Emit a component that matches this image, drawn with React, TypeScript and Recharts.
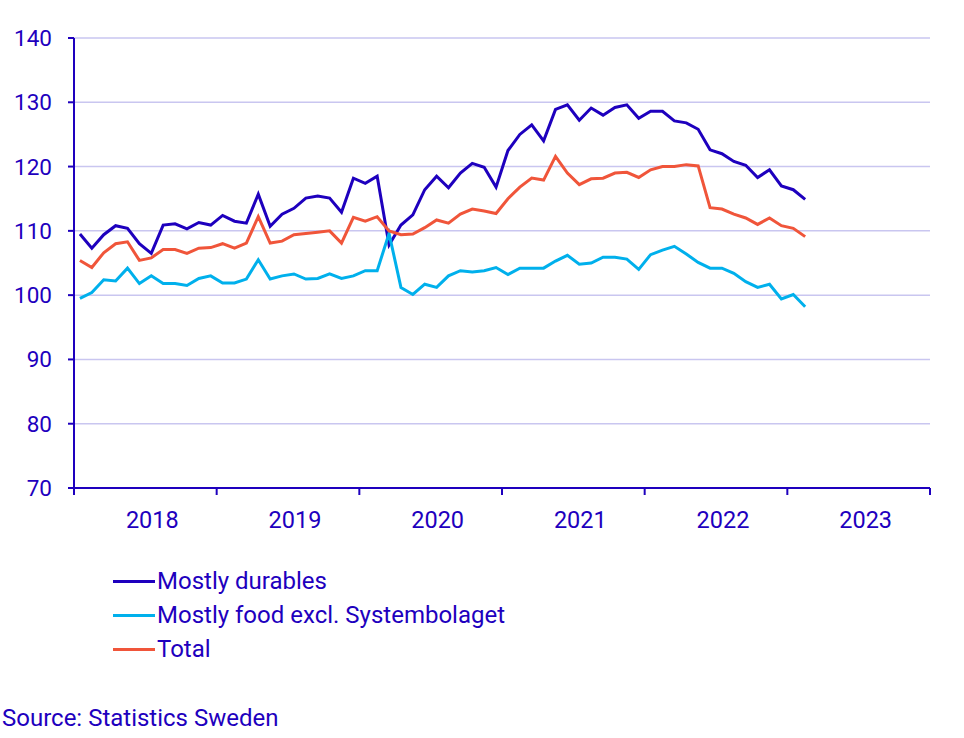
import { CartesianGrid, Line, LineChart, XAxis, YAxis } from 'recharts'

// Monthly index, Jan 2018 – Feb 2023
const DURABLES = [
  109.5, 107.3, 109.4, 110.8, 110.4, 108.0, 106.5, 110.9, 111.1, 110.3, 111.3, 110.9,
  112.4, 111.5, 111.2, 115.7, 110.7, 112.6, 113.5, 115.1, 115.4, 115.1, 112.9, 118.2,
  117.4, 118.5, 107.8, 110.9, 112.5, 116.4, 118.5, 116.7, 119.0, 120.5, 119.9, 116.8,
  122.5, 125.0, 126.5, 124.0, 128.9, 129.6, 127.2, 129.1, 128.0, 129.2, 129.6, 127.5,
  128.6, 128.6, 127.1, 126.8, 125.8, 122.6, 122.0, 120.8, 120.2, 118.3, 119.5, 117.0,
  116.4, 114.9,
]
const FOOD = [
  99.5, 100.4, 102.4, 102.2, 104.2, 101.8, 103.0, 101.8, 101.8, 101.5, 102.6, 103.0,
  101.9, 101.9, 102.5, 105.5, 102.5, 103.0, 103.3, 102.5, 102.6, 103.3, 102.6, 103.0,
  103.8, 103.8, 109.6, 101.2, 100.1, 101.7, 101.2, 103.0, 103.8, 103.6, 103.8, 104.3,
  103.2, 104.2, 104.2, 104.2, 105.3, 106.2, 104.8, 105.0, 105.9, 105.9, 105.6, 104.0,
  106.3, 107.0, 107.6, 106.4, 105.1, 104.2, 104.2, 103.4, 102.1, 101.2, 101.7, 99.4,
  100.1, 98.2,
]
const TOTAL = [
  105.4, 104.3, 106.6, 108.0, 108.3, 105.4, 105.8, 107.1, 107.1, 106.5, 107.3, 107.4,
  108.0, 107.3, 108.1, 112.2, 108.1, 108.4, 109.4, 109.6, 109.8, 110.0, 108.1, 112.1,
  111.5, 112.2, 110.0, 109.4, 109.5, 110.5, 111.7, 111.2, 112.6, 113.4, 113.1, 112.7,
  115.0, 116.8, 118.2, 117.9, 121.6, 119.0, 117.2, 118.1, 118.2, 119.0, 119.1, 118.3,
  119.5, 120.0, 120.0, 120.3, 120.1, 113.6, 113.4, 112.6, 112.0, 111.0, 112.0, 110.8,
  110.4, 109.1,
]
const YEARS = ['2018', '2019', '2020', '2021', '2022', '2023']
const Y_TICKS = [70, 80, 90, 100, 110, 120, 130, 140]

const SERIES = [
  { key: 'durables', name: 'Mostly durables', color: '#1e00be' },
  { key: 'food', name: 'Mostly food excl. Systembolaget', color: '#00b0ec' },
  { key: 'total', name: 'Total', color: '#f0553a' },
]

const INK = '#1e00be'
const FONT = 'Roboto, sans-serif'

const data = DURABLES.map((d, i) => ({
  t: i + 0.5,
  durables: d,
  food: FOOD[i],
  total: TOTAL[i],
}))

const xTicks = Array.from({ length: YEARS.length * 2 + 1 }, (_, i) => i * 6)

function XTick(props: any) {
  const { x, y, payload } = props
  const v = payload.value as number
  if (v % 12 === 0) {
    return <line x1={x} x2={x} y1={y} y2={y + 7} stroke={INK} strokeWidth={2} />
  }
  return (
    <text x={x + 7} y={y + 40} textAnchor="middle" fill={INK} fontSize={23.5} fontFamily={FONT}>
      {YEARS[Math.floor(v / 12)]}
    </text>
  )
}

export default function App() {
  return (
    <div style={{ position: 'absolute', left: 0, top: 0, width: 964, height: 738, background: '#fff', fontFamily: FONT }}>
      <LineChart width={964} height={540} data={data} margin={{ top: 38, right: 34, bottom: 0, left: 0 }}>
        <CartesianGrid vertical={false} stroke="#c9c6f0" strokeWidth={1.5} />
        <XAxis
          type="number"
          dataKey="t"
          domain={[0, 72]}
          ticks={xTicks}
          interval={0}
          tickSize={0}
          tickMargin={0}
          tickLine={false}
          tick={XTick}
          axisLine={{ stroke: INK, strokeWidth: 2 }}
          height={52}
        />
        <YAxis
          type="number"
          domain={[70, 140]}
          ticks={Y_TICKS}
          interval={0}
          width={74}
          tickSize={6}
          tickMargin={16}
          tickLine={{ stroke: INK, strokeWidth: 2 }}
          axisLine={{ stroke: INK, strokeWidth: 2 }}
          tick={{ fill: INK, fontSize: 22.5, fontFamily: FONT }}
        />
        {SERIES.map((s) => (
          <Line
            key={s.key}
            type="linear"
            dataKey={s.key}
            name={s.name}
            stroke={s.color}
            strokeWidth={3}
            dot={false}
            activeDot={false}
            isAnimationActive={false}
          />
        ))}
      </LineChart>
      {SERIES.map((s, i) => (
        <div
          key={s.key}
          style={{ position: 'absolute', left: 113, top: 567 + i * 34, height: 28, display: 'flex', alignItems: 'center' }}
        >
          <div style={{ width: 42, height: 3, background: s.color, marginRight: 2 }} />
          <span style={{ color: INK, fontSize: 24, lineHeight: '28px' }}>{s.name}</span>
        </div>
      ))}
      <div style={{ position: 'absolute', left: 2, top: 704, color: INK, fontSize: 24, lineHeight: '28px' }}>
        Source: Statistics Sweden
      </div>
    </div>
  )
}
